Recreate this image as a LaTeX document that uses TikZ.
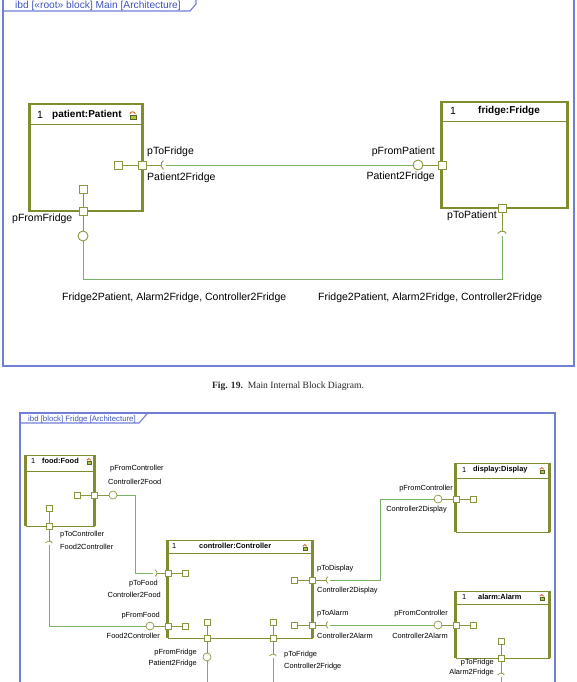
\documentclass[tikz,border=0pt]{standalone}
\usepackage{fontspec}
\setmainfont{Liberation Sans}
\newfontfamily\capfont{Liberation Serif}
\definecolor{blockc}{RGB}{128,140,48}
\definecolor{portc}{RGB}{140,150,62}
\definecolor{connc}{RGB}{122,178,104}
\definecolor{framec}{RGB}{112,126,214}
\definecolor{headc}{RGB}{62,84,190}
\definecolor{iconr}{RGB}{222,112,52}
\definecolor{icong}{RGB}{170,200,70}
\begin{document}
\begin{tikzpicture}[x=1pt,y=-1pt]
    \tikzstyle{block}=[rectangle,draw=blockc,line width=1.1pt,fill=white,inner sep=0pt]
    \tikzstyle{side}=[draw=blockc,line width=2.8pt]
    \tikzstyle{sside}=[draw=blockc,line width=2.2pt]
    \tikzstyle{sep}=[draw=blockc,line width=0.7pt]
    \tikzstyle{port}=[rectangle,draw=portc,fill=white,line width=0.9pt,minimum size=8pt,inner sep=0pt]
    \tikzstyle{sport}=[port,minimum size=6pt,line width=0.7pt]
    \tikzstyle{ball}=[circle,draw=portc,fill=white,line width=0.9pt,minimum size=10pt,inner sep=0pt]
    \tikzstyle{sball}=[ball,minimum size=8pt,line width=0.7pt]
    \tikzstyle{plink}=[draw=portc,line width=0.9pt]
    \tikzstyle{cup}=[draw=portc,line width=0.9pt]
    \tikzstyle{conn}=[draw=connc,line width=1pt]
    \tikzstyle{lbl}=[inner sep=0pt,font=\fontsize{10.5}{12}\selectfont]
    \tikzstyle{slbl}=[inner sep=0pt,font=\fontsize{7.4}{9}\selectfont]
    \tikzstyle{title}=[inner sep=0pt,font=\fontsize{10}{12}\selectfont\bfseries]
    \tikzstyle{stitle}=[inner sep=0pt,font=\fontsize{7.4}{9}\selectfont\bfseries]
    \tikzstyle{frame}=[draw=framec,line width=1.1pt]
    \useasboundingbox (0,0) rectangle (577,682);
    \clip (0,0) rectangle (577,682);

    % Fig. 19 frame
    \draw[frame] (3,-5) rectangle (574,366);
    \draw[frame] (3,11) -- (190,11) -- (196,4) -- (196,-5);
    \node (hdrA) at (15,8.5) [anchor=base west,inner sep=0pt,text=headc,font=\fontsize{10.2}{12}\selectfont] {ibd [«root» block] Main [Architecture]};

    % blocks
    \node (pat) at (86,157.5) [block,minimum width=112pt,minimum height=107pt] {};
    \draw[side] (pat.north west) -- (pat.south west);
    \draw[side] (pat.north east) -- (pat.south east);
    \draw[sep] ([yshift=-21pt]pat.north west) -- ([yshift=-21pt]pat.north east);
    \node (patN) at (37,115) [lbl,anchor=west] {1};
    \node (patT) at (52,115) [title,anchor=west] {patient:Patient};

    \node (fri) at (504.5,155) [block,minimum width=125pt,minimum height=106pt] {};
    \draw[side] (fri.north west) -- (fri.south west);
    \draw[side] (fri.north east) -- (fri.south east);
    \draw[sep] ([yshift=-20pt]fri.north west) -- ([yshift=-20pt]fri.north east);
    \node (friN) at (450,111) [lbl,anchor=west] {1};
    \node (friT) at (478,111) [title,anchor=west] {fridge:Fridge};

    % ports
    \node (pToF) at (142,165) [port] {};
    \node (pToFi) at (118,165) [port] {};
    \coordinate (pToFc) at (166,165);
    \node (pFrF) at (83,211) [port] {};
    \node (pFrFi) at (83,189) [port] {};
    \node (pFrFb) at (83,236) [ball] {};
    \node (pFrP) at (442,165) [port] {};
    \node (pFrPb) at (418,165) [ball] {};
    \node (pToP) at (502,208) [port] {};
    \coordinate (pToPc) at (502,236);

    \draw[plink] (pToFi) -- (pToF);
    \draw[plink] (pToF) -- ([xshift=-5pt]pToFc);
    \draw[cup] (pToFc) ++(120:5) arc (120:240:5);
    \draw[plink] (pFrFi) -- (pFrF);
    \draw[plink] (pFrF) -- (pFrFb);
    \draw[plink] (pFrPb) -- (pFrP);
    \draw[plink] (pToP) -- ([yshift=5pt]pToPc);
    \draw[cup] (pToPc) ++(210:5) arc (210:330:5);

    % connectors
    \coordinate (bendL) at (83,279);
    \coordinate (bendR) at (502,279);
    \draw[conn] (pToFc) -- (pFrPb);
    \draw[conn] (pFrFb) -- (bendL) -- (bendR) -- (pToPc);

    \node (lToF) at (147,152) [lbl,anchor=west] {pToFridge};
    \node (lP2Fa) at (147,178) [lbl,anchor=west] {Patient2Fridge};
    \node (lFrP) at (435,152) [lbl,anchor=east] {pFromPatient};
    \node (lP2Fb) at (435,177) [lbl,anchor=east] {Patient2Fridge};
    \node (lFrF) at (12,219) [lbl,anchor=west] {pFromFridge};
    \node (lToP) at (497,216) [lbl,anchor=east] {pToPatient};
    \node (lBotA) at (62,298) [lbl,anchor=west] {Fridge2Patient, Alarm2Fridge, Controller2Fridge};
    \node (lBotB) at (318,298) [lbl,anchor=west] {Fridge2Patient, Alarm2Fridge, Controller2Fridge};

    \node (cap) at (288,386) [inner sep=0pt,text=black!85,font=\capfont\fontsize{9.6}{11}\selectfont] {\textbf{Fig. 19.}\enspace Main Internal Block Diagram.};

    % Fridge frame
    \draw[frame] (20,413) rectangle (555,700);
    \draw[frame] (20,423) -- (139,423) -- (147,414);
    \node (hdrB) at (28,421) [anchor=base west,inner sep=0pt,text=headc,font=\fontsize{7.8}{9}\selectfont] {ibd [block] Fridge [Architecture]};

    \node (food) at (60,490.5) [block,line width=0.9pt,minimum width=68pt,minimum height=71pt] {};
    \draw[sside] (food.north west) -- (food.south west);
    \draw[sside] (food.north east) -- (food.south east);
    \draw[sep] ([yshift=-17pt]food.north west) -- ([yshift=-17pt]food.north east);
    \node (foodN) at (31,461) [slbl,anchor=west] {1};
    \node (foodT) at (42,461) [stitle,anchor=west] {food:Food};

    \node (ctl) at (240,589) [block,line width=0.9pt,minimum width=144pt,minimum height=98pt] {};
    \draw[sside] (ctl.north west) -- (ctl.south west);
    \draw[sside] (ctl.north east) -- (ctl.south east);
    \draw[sep] ([yshift=-14pt]ctl.north west) -- ([yshift=-14pt]ctl.north east);
    \node (ctlN) at (172,546) [slbl,anchor=west] {1};
    \node (ctlT) at (199,546) [stitle,anchor=west] {controller:Controller};

    \node (disp) at (502.5,497.5) [block,line width=0.9pt,minimum width=93pt,minimum height=69pt] {};
    \draw[sside] (disp.north west) -- (disp.south west);
    \draw[sside] (disp.north east) -- (disp.south east);
    \draw[sep] ([yshift=-16pt]disp.north west) -- ([yshift=-16pt]disp.north east);
    \node (dispN) at (462,470) [slbl,anchor=west] {1};
    \node (dispT) at (473,470) [stitle,anchor=west] {display:Display};

    \node (alm) at (502.5,624.5) [block,line width=0.9pt,minimum width=93pt,minimum height=67pt] {};
    \draw[sside] (alm.north west) -- (alm.south west);
    \draw[sside] (alm.north east) -- (alm.south east);
    \draw[sep] ([yshift=-14pt]alm.north west) -- ([yshift=-14pt]alm.north east);
    \node (almN) at (462,597) [slbl,anchor=west] {1};
    \node (almT) at (478,597) [stitle,anchor=west] {alarm:Alarm};

    % icons
    \foreach \ix/\iy/\s in {133/115/1,89/461/0.75,305/547/0.75,542/470/0.75,542/597/0.75} {
      \begin{scope}[shift={(\ix,\iy)},scale=\s]
        \fill[icong] (-3,0) rectangle (3,4);
        \draw[blockc!70!black,line width=0.5pt] (-3,0) rectangle (3,4);
        \draw[iconr,line width=1pt] (-3,-1) arc (180:360:2.6 and 2.2);
      \end{scope}
    }

    % ports
    \node (pFrC) at (94,495) [sport] {};
    \node (pFrCi) at (77,495) [sport] {};
    \node (pFrCb) at (113,495) [sball] {};
    \node (pToC) at (49,526) [sport] {};
    \node (pToCi) at (49,508) [sport] {};
    \coordinate (pToCc) at (49,545);

    \node (pToFo) at (168,573) [sport] {};
    \node (pToFoi) at (185,573) [sport] {};
    \coordinate (pToFoc) at (153,573);
    \node (pFrFo) at (168,626) [sport] {};
    \node (pFrFoi) at (185,626) [sport] {};
    \node (pFrFob) at (150,626) [sball] {};
    \node (pFrFr) at (207,638) [sport] {};
    \node (pFrFri) at (207,622) [sport] {};
    \node (pFrFrb) at (207,657) [sball] {};
    \node (pToFr) at (273,638) [sport] {};
    \node (pToFri) at (273,622) [sport] {};
    \coordinate (pToFrc) at (273,658);
    \node (pToD) at (312,580) [sport] {};
    \node (pToDi) at (294,580) [sport] {};
    \coordinate (pToDc) at (330,580);
    \node (pToA) at (312,625) [sport] {};
    \node (pToAi) at (294,625) [sport] {};
    \coordinate (pToAc) at (330,625);

    \node (pFrCd) at (456,499) [sport] {};
    \node (pFrCdi) at (473,499) [sport] {};
    \node (pFrCdb) at (438,499) [sball] {};
    \node (pFrCa) at (456,625) [sport] {};
    \node (pFrCai) at (473,625) [sport] {};
    \node (pFrCab) at (438,625) [sball] {};
    \node (pToFa) at (501,658) [sport] {};
    \node (pToFai) at (501,641) [sport] {};
    \coordinate (pToFac) at (501,677);

    \draw[plink,line width=0.7pt] (pFrCi) -- (pFrC) -- (pFrCb);
    \draw[plink,line width=0.7pt] (pToCi) -- (pToC) -- ([yshift=4pt]pToCc);
    \draw[cup,line width=0.7pt] (pToCc) ++(210:4) arc (210:330:4);
    \draw[plink,line width=0.7pt] (pToFoi) -- (pToFo) -- ([xshift=4pt]pToFoc);
    \draw[cup,line width=0.7pt] (pToFoc) ++(-60:4) arc (-60:60:4);
    \draw[plink,line width=0.7pt] (pFrFoi) -- (pFrFo) -- (pFrFob);
    \draw[plink,line width=0.7pt] (pFrFri) -- (pFrFr) -- (pFrFrb);
    \draw[plink,line width=0.7pt] (pToFri) -- (pToFr) -- ([yshift=4pt]pToFrc);
    \draw[cup,line width=0.7pt] (pToFrc) ++(210:4) arc (210:330:4);
    \draw[plink,line width=0.7pt] (pToDi) -- (pToD) -- ([xshift=-4pt]pToDc);
    \draw[cup,line width=0.7pt] (pToDc) ++(120:4) arc (120:240:4);
    \draw[plink,line width=0.7pt] (pToAi) -- (pToA) -- ([xshift=-4pt]pToAc);
    \draw[cup,line width=0.7pt] (pToAc) ++(120:4) arc (120:240:4);
    \draw[plink,line width=0.7pt] (pFrCdi) -- (pFrCd) -- (pFrCdb);
    \draw[plink,line width=0.7pt] (pFrCai) -- (pFrCa) -- (pFrCab);
    \draw[plink,line width=0.7pt] (pToFai) -- (pToFa) -- ([yshift=4pt]pToFac);
    \draw[cup,line width=0.7pt] (pToFac) ++(210:4) arc (210:330:4);

    % connectors
    \coordinate (bendFa) at (135,495);
    \coordinate (bendFb) at (135,573);
    \coordinate (bendFc) at (49,626);
    \coordinate (bendDa) at (380,580);
    \coordinate (bendDb) at (380,499);
    \coordinate (exitA) at (207,690);
    \coordinate (exitB) at (273,690);
    \coordinate (exitC) at (501,690);
    \draw[conn] (pFrCb) -- (bendFa) -- (bendFb) -- (pToFoc);
    \draw[conn] (pToCc) -- (bendFc) -- (pFrFob);
    \draw[conn] (pToDc) -- (bendDa) -- (bendDb) -- (pFrCdb);
    \draw[conn] (pToAc) -- (pFrCab);
    \draw[conn] (pFrFrb) -- (exitA);
    \draw[conn] (pToFrc) -- (exitB);
    \draw[conn] (pToFac) -- (exitC);

    \node (lFrCf) at (110,469) [slbl,anchor=west] {pFromController};
    \node (lC2Fa) at (108,482) [slbl,anchor=west] {Controller2Food};
    \node (lToC) at (60,535) [slbl,anchor=west] {pToController};
    \node (lF2Ca) at (60,547) [slbl,anchor=west] {Food2Controller};
    \node (lToFo) at (158,584) [slbl,anchor=east] {pToFood};
    \node (lC2Fb) at (161,595) [slbl,anchor=east] {Controller2Food};
    \node (lFrFo) at (160,616) [slbl,anchor=east] {pFromFood};
    \node (lF2Cb) at (160,636) [slbl,anchor=east] {Food2Controller};
    \node (lFrFr) at (197,653) [slbl,anchor=east] {pFromFridge};
    \node (lP2F) at (197,664) [slbl,anchor=east] {Patient2Fridge};
    \node (lToFr) at (284,655) [slbl,anchor=west] {pToFridge};
    \node (lC2Fr) at (284,667) [slbl,anchor=west] {Controller2Fridge};
    \node (lToD) at (317,569) [slbl,anchor=west] {pToDisplay};
    \node (lC2Da) at (317,591) [slbl,anchor=west] {Controller2Display};
    \node (lFrCd) at (453,489) [slbl,anchor=east] {pFromController};
    \node (lC2Db) at (447,510) [slbl,anchor=east] {Controller2Display};
    \node (lToA) at (317,614) [slbl,anchor=west] {pToAlarm};
    \node (lC2Aa) at (317,636) [slbl,anchor=west] {Controller2Alarm};
    \node (lFrCa) at (448,614) [slbl,anchor=east] {pFromController};
    \node (lC2Ab) at (448,636) [slbl,anchor=east] {Controller2Alarm};
    \node (lToFa) at (494,663) [slbl,anchor=east] {pToFridge};
    \node (lA2F) at (494,673) [slbl,anchor=east] {Alarm2Fridge};
\end{tikzpicture}
\end{document}
